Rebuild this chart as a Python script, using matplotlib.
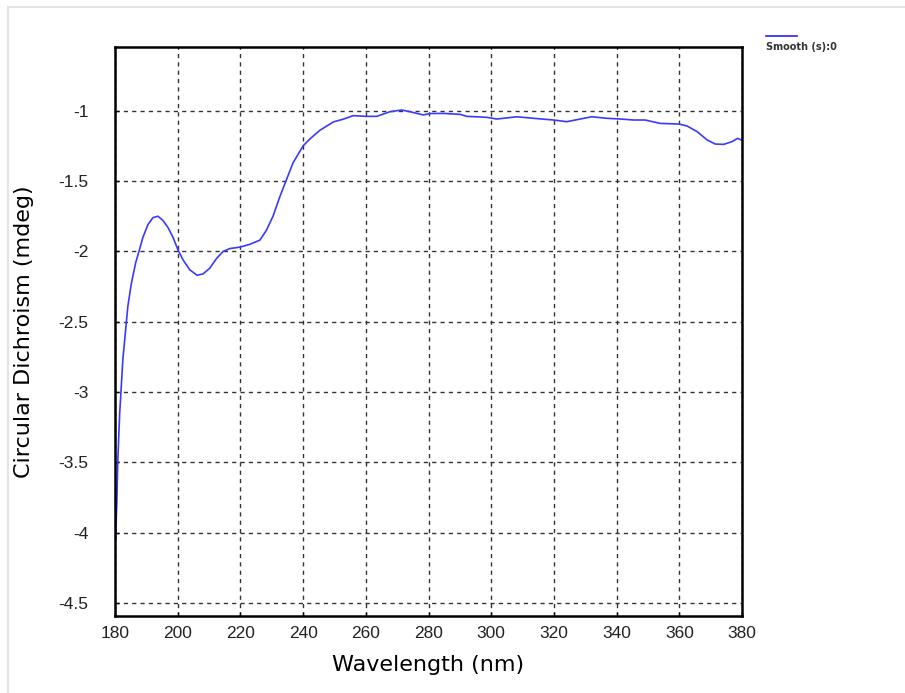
import matplotlib.pyplot as plt
from matplotlib.patches import Rectangle

# CD spectrum
wavelength = [180.2, 180.6, 180.9, 181.5, 182.0, 182.5, 183.3, 184.1, 185.2, 186.6,
              187.9, 188.9, 190.5, 192.1, 193.7, 195.3, 196.9, 198.5, 200.1, 201.7,
              203.8, 206.2, 208.1, 210.2, 212.4, 214.5, 216.6, 219.8, 223.0, 226.2,
              228.3, 230.4, 232.6, 234.7, 236.8, 240.0, 242.2, 245.3, 249.6, 252.8,
              256.0, 260.3, 263.5, 267.7, 271.4, 274.1, 278.3, 280.5, 284.7, 290.1,
              292.2, 298.6, 301.8, 308.2, 313.5, 319.9, 324.1, 328.4, 332.1, 336.9,
              341.2, 345.4, 349.1, 353.9, 360.0, 362.5, 365.7, 368.9, 371.5, 374.2,
              376.8, 378.6, 379.7]
cd_mdeg = [-4.05, -3.77, -3.48, -3.15, -2.96, -2.77, -2.58, -2.39, -2.23, -2.08,
           -1.98, -1.90, -1.81, -1.76, -1.75, -1.78, -1.83, -1.90, -1.99, -2.06,
           -2.13, -2.17, -2.16, -2.12, -2.05, -2.00, -1.98, -1.97, -1.95, -1.92,
           -1.85, -1.75, -1.61, -1.49, -1.37, -1.25, -1.20, -1.14, -1.08, -1.06,
           -1.035, -1.04, -1.04, -1.007, -0.995, -1.007, -1.03, -1.02, -1.019, -1.026,
           -1.04, -1.047, -1.059, -1.043, -1.054, -1.066, -1.078, -1.059, -1.043, -1.054,
           -1.059, -1.066, -1.066, -1.09, -1.095, -1.109, -1.149, -1.208, -1.237, -1.239,
           -1.22, -1.196, -1.208]

x_ticks = list(range(180, 381, 20))
y_ticks = [-4.5, -4, -3.5, -3, -2.5, -2, -1.5, -1]
y_labels = ["-4.5", "-4", "-3.5", "-3", "-2.5", "-2", "-1.5", "-1"]

tick_font = ["Liberation Sans Narrow", "Liberation Sans", "DejaVu Sans"]

fig = plt.figure(figsize=(9.05, 6.93), dpi=100)
fig.patches.append(Rectangle((8 / 905, -0.01), 1.0, 1 - 7 / 693 + 0.01,
                             transform=fig.transFigure, fill=False,
                             edgecolor="#e4e4e4", linewidth=1.5))

ax = fig.add_axes([115 / 905, 1 - 616 / 693, (742 - 115) / 905, (616 - 47) / 693])
ax.plot(wavelength, cd_mdeg, color="#3a3aff", linewidth=1.2)

ax.set_xlim(180, 380)
ax.set_ylim(-4.592, -0.547)
ax.set_xticks(x_ticks)
ax.set_yticks(y_ticks)
ax.set_yticklabels(y_labels)
ax.grid(True, color="#333333", linestyle=(0, (3, 3)), linewidth=1)

ax.tick_params(direction="in", length=3, width=1, color="black")
ax.tick_params(axis="x", pad=7)
ax.tick_params(axis="y", pad=19)
for lab in ax.get_xticklabels() + ax.get_yticklabels():
    lab.set_family(tick_font)
    lab.set_fontsize(12.5)
    lab.set_color("#222222")

for sp in ax.spines.values():
    sp.set_linewidth(1.8)
    sp.set_color("black")

ax.set_xlabel("Wavelength (nm)", fontsize=16, family="DejaVu Sans", va="center")
ax.set_ylabel("Circular Dichroism (mdeg)", fontsize=16, family="DejaVu Sans", va="center")
ax.xaxis.set_label_coords(0.5, -0.086)
ax.yaxis.set_label_coords(-0.145, 0.5)

# legend-like marker in the top right corner
fig.lines.append(plt.Line2D([766 / 905, 797 / 905], [1 - 36 / 693, 1 - 36 / 693],
                            transform=fig.transFigure, color="#2222ff", linewidth=1.2))
fig.text(766 / 905, 1 - 47 / 693, "Smooth (s):0", fontsize=7, fontweight="bold",
         color="#333333", va="center", ha="left", family="DejaVu Sans")

fig.savefig("out.png", dpi=100)
